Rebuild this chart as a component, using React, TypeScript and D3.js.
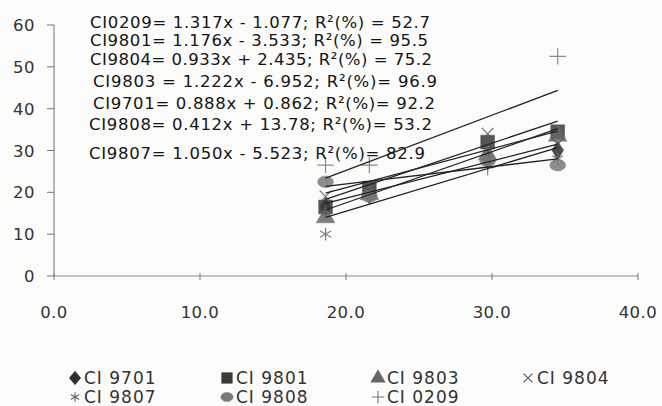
import React from 'react';
import * as d3 from 'd3';

// shared x values
const xValues = [18.6, 21.6, 29.7, 34.5];

const seriesNames = ['CI 9701', 'CI 9801', 'CI 9803', 'CI 9804', 'CI 9807', 'CI 9808', 'CI 0209'];
const ci9701 = [16.5, 19.5, 28.0, 30.0];
const ci9801 = [16.5, 21.0, 32.0, 34.5];
const ci9803 = [14.0, 19.5, 29.0, 33.5];
const ci9804 = [19.0, 20.5, 34.0, 31.5];
const ci9807 = [10.0, 19.0, 26.5, 28.0];
const ci9808 = [22.5, 19.0, 27.5, 26.5];
const ci0209 = [26.5, 26.5, 26.0, 52.5];
const seriesValues = [ci9701, ci9801, ci9803, ci9804, ci9807, ci9808, ci0209];

// fitted lines as printed on the chart
const eqLabels = [
  'CI0209= 1.317x - 1.077; R²(%) = 52.7',
  'CI9801= 1.176x - 3.533; R²(%) = 95.5',
  'CI9804= 0.933x + 2.435; R²(%) = 75.2',
  'CI9803 = 1.222x - 6.952; R²(%)= 96.9',
  'CI9701= 0.888x + 0.862; R²(%)= 92.2',
  'CI9808= 0.412x + 13.78; R²(%)= 53.2',
  'CI9807= 1.050x - 5.523; R²(%)= 82.9',
];
const slopes = [0.888, 1.176, 1.222, 0.933, 1.05, 0.412, 1.317];
const intercepts = [0.862, -3.533, -6.952, 2.435, -5.523, 13.78, -1.077];

const xTicks = [0, 10, 20, 30, 40];
const yTicks = [0, 10, 20, 30, 40, 50, 60];

const symbolTypes = [
  d3.symbolDiamond,
  d3.symbolSquare,
  d3.symbolTriangle,
  d3.symbolTimes,
  d3.symbolAsterisk,
  d3.symbolCircle,
  d3.symbolPlus,
];
const filled = [true, true, true, false, false, true, false];
const colors = ['#2e2e2e', '#3a3a3a', '#666', '#555', '#666', '#7a7a7a', '#777'];
const sizes = [110, 190, 150, 90, 110, 150, 90];

const W = 662, H = 406;
const font = '"DejaVu Sans", Verdana, sans-serif';

export default function App() {
  const x = d3.scaleLinear().domain([0, 40]).range([54, 638]);
  const y = d3.scaleLinear().domain([0, 60]).range([276, 25]);
  const xMin = d3.min(xValues) as number;
  const xMax = d3.max(xValues) as number;

  const eqPos = [
    [90, 28, 340], [90, 46, 338], [90, 65, 342], [93, 87, 344], [93, 109, 342], [89, 130, 343], [89, 159, 336],
  ];
  const legendPos = [
    [75, 378], [227, 378], [378, 378], [528, 378],
    [75, 397], [227, 397], [378, 397],
  ];

  return (
    <div style={{ position: 'fixed', left: 0, top: 0 }}>
      <svg width={W} height={H} style={{ display: 'block', background: '#fbfbf9' }}>
        {/* axes */}
        <line x1={x(0)} x2={x(0)} y1={y(60)} y2={y(0)} stroke="#8a8a8a" strokeWidth={1.2} />
        <line x1={x(0)} x2={x(40)} y1={y(0)} y2={y(0)} stroke="#8a8a8a" strokeWidth={1.2} />
        {yTicks.map(t => (
          <g key={'y' + t}>
            <line x1={x(0) - 7} x2={x(0)} y1={y(t)} y2={y(t)} stroke="#777" />
            <text x={35} y={y(t) + 6} textAnchor="end" fontFamily={font} fontSize={16.5} letterSpacing={0.5} fill="#333">{t}</text>
          </g>
        ))}
        {xTicks.map(t => (
          <g key={'x' + t}>
            <line x1={x(t)} x2={x(t)} y1={y(0) - 3} y2={y(0) + 4} stroke="#777" />
            <text x={x(t)} y={318} textAnchor="middle" fontFamily={font} fontSize={16.5} letterSpacing={0.5} fill="#333">{t.toFixed(1)}</text>
          </g>
        ))}

        {/* markers */}
        {seriesValues.map((vals, si) => {
          const sym = d3.symbol(symbolTypes[si], sizes[si]);
          return vals.map((v, i) => (
            <path
              key={si + '-' + i}
              d={sym() as string}
              transform={`translate(${x(xValues[i])},${y(v)})${si === 5 ? ' scale(1.15,0.85)' : ''}`}
              fill={filled[si] ? colors[si] : 'none'}
              stroke={colors[si]}
              strokeWidth={filled[si] ? 0.5 : 1.2}
              opacity={0.85}
            />
          ));
        })}

        {/* fitted lines */}
        {slopes.map((b, si) => (
          <line
            key={'fit' + si}
            x1={x(xMin)}
            x2={x(xMax)}
            y1={y(b * xMin + intercepts[si])}
            y2={y(b * xMax + intercepts[si])}
            stroke="#222"
            strokeWidth={1.3}
          />
        ))}

        {/* equations */}
        {eqLabels.map((s, i) => (
          <text
            key={'eq' + i}
            x={eqPos[i][0]}
            y={eqPos[i][1]}
            textLength={eqPos[i][2]}
            lengthAdjust="spacing"
            fontFamily={font}
            fontSize={16.5}
            fill="#151515"
          >{s}</text>
        ))}

        {/* legend */}
        {seriesNames.map((name, si) => {
          const sym = d3.symbol(symbolTypes[si], sizes[si] * 0.6);
          return (
            <g key={'lg' + si} transform={`translate(${legendPos[si][0]},${legendPos[si][1]})`}>
              <path
                d={sym() as string}
                transform={si === 5 ? 'scale(1.15,0.85)' : si === 0 ? 'scale(1.3,0.9)' : undefined}
                fill={filled[si] ? colors[si] : 'none'}
                stroke={colors[si]}
                strokeWidth={filled[si] ? 0.5 : 1.1}
              />
              <text x={9} y={6} fontFamily={font} fontSize={17} letterSpacing={1} fill="#333">{name}</text>
            </g>
          );
        })}
      </svg>
    </div>
  );
}
